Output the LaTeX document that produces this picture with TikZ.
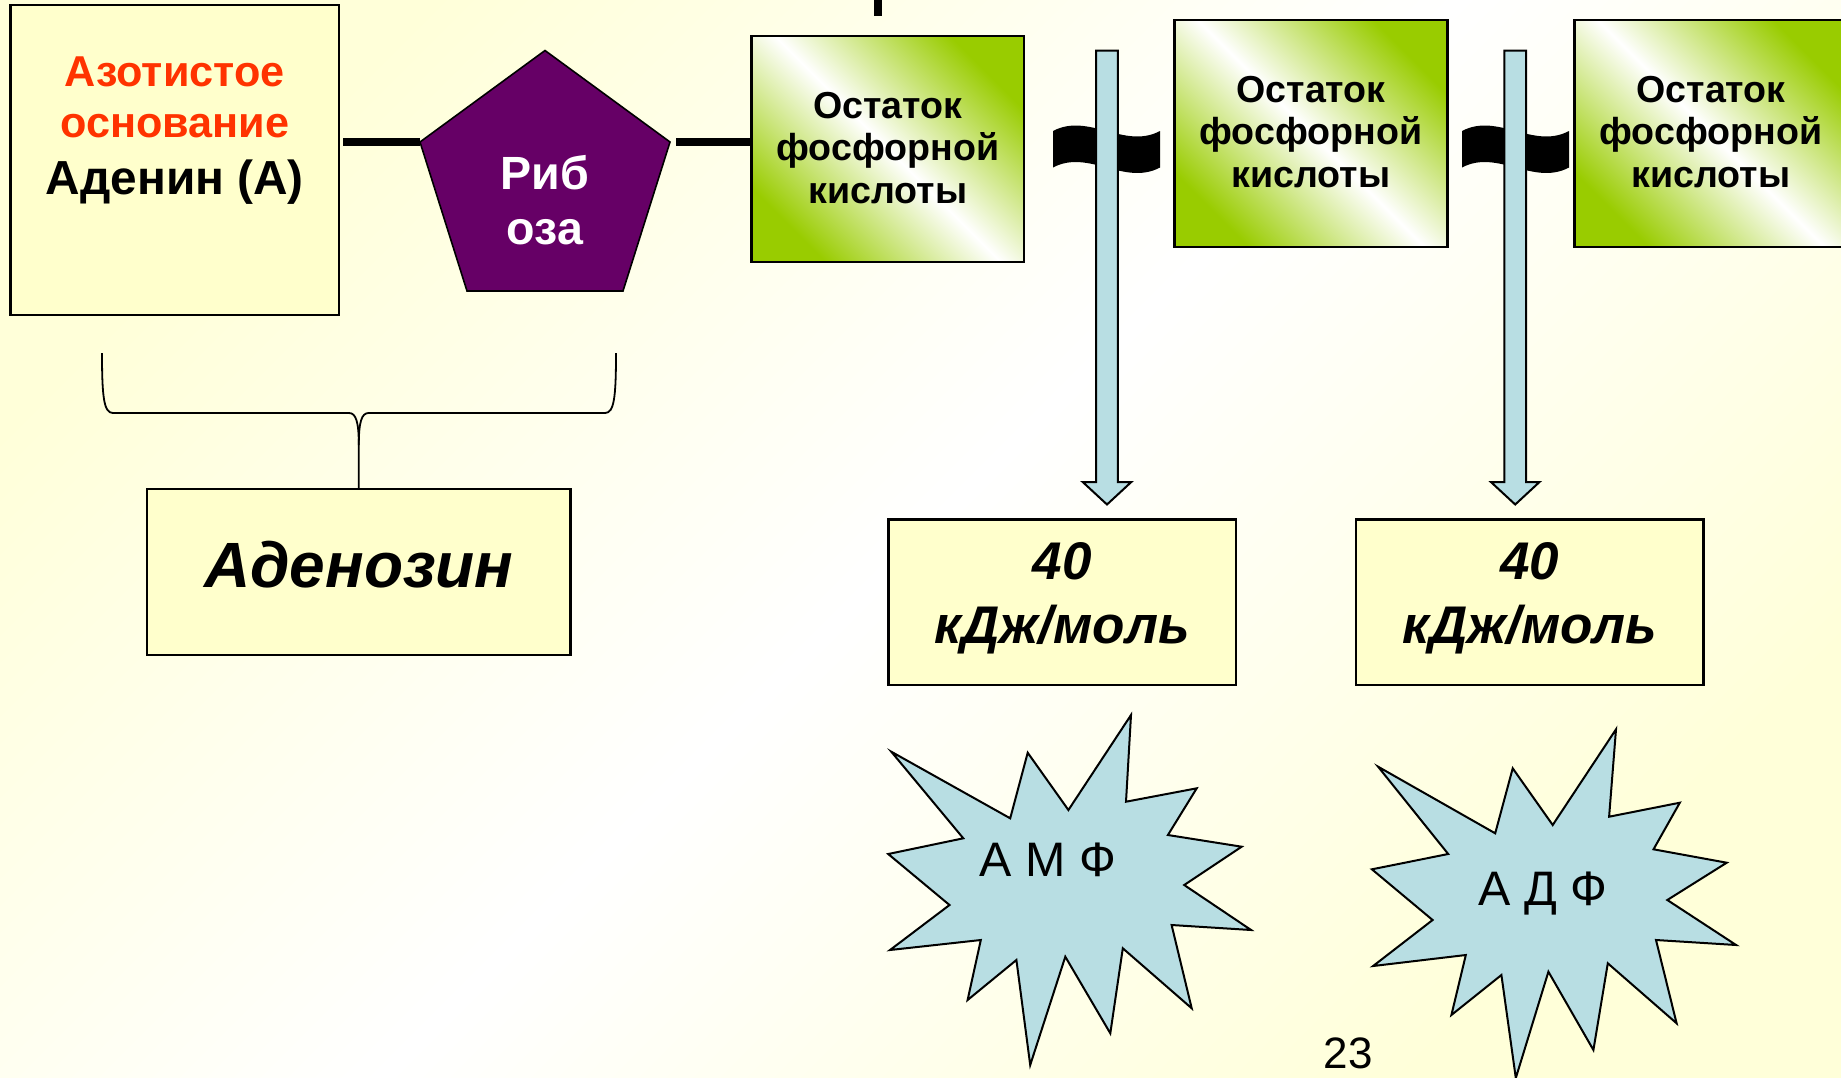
\documentclass[tikz,border=0pt]{standalone}
\usepackage{fontspec}
\setmainfont{Liberation Sans}
\usetikzlibrary{calc}
\definecolor{boxyel}{HTML}{FFFFCC}
\definecolor{bgyel}{HTML}{FFFFD9}
\definecolor{ribpurple}{HTML}{660066}
\definecolor{phgreen}{HTML}{99CC00}
\definecolor{lightblue}{HTML}{B8DEE3}
\definecolor{azred}{HTML}{FF3300}
\tikzset{
  yelbox/.style={draw=black, line width=1.2pt, fill=boxyel, inner sep=0pt},
  phbox/.style={draw=black, line width=1.2pt, top color=phgreen, bottom color=phgreen, middle color=white, shading angle=-45, inner sep=0pt, minimum width=136.5pt, minimum height=113.5pt},
  enbox/.style={yelbox, minimum width=173.85pt, minimum height=82.85pt},
  bond/.style={line width=3.6pt},
  brace/.style={line width=0.9pt},
  ribose/.style={fill=ribpurple, draw=black, line width=0.8pt},
  hewave/.style={fill=black},
  blockarrow/.style={fill=lightblue, draw=black, line width=1pt, line join=miter},
  burst/.style={fill=lightblue, draw=black, line width=1pt, line join=miter},
  txt/.style={anchor=base, inner sep=0pt, outer sep=0pt},
  phfont/.style={font=\fontsize{18.8pt}{21pt}\selectfont\bfseries},
  enfont/.style={font=\fontsize{26.5pt}{30pt}\selectfont\bfseries\itshape},
  burstfont/.style={font=\fontsize{24.2pt}{28pt}\selectfont},
}
\newcommand\phostext[3]{% x, first baseline, name
  \node[txt, phfont] (#3a) at (#1,#2) {Остаток};
  \node[txt, phfont] (#3b) at (#1,{#2+42.5}) {фосфорной};
  \node[txt, phfont] (#3c) at (#1,{#2+85}) {кислоты};
}
\newcommand\hewavebond[1]{%
  \fill[hewave] ({#1-53.5},131) .. controls ({#1-17.8},112) and ({#1+17.8},150) .. ({#1+53.5},131)
    -- ({#1+53.5},167.5) .. controls ({#1+17.8},186.5) and ({#1-17.8},148.5) .. ({#1-53.5},167.5) -- cycle;
}
\newcommand\downblockarrow[1]{%
  \filldraw[blockarrow] ({#1-10.8},50.5) -- ({#1+10.8},50.5) -- ({#1+10.8},482) -- ({#1+24.3},482)
    -- (#1,504.5) -- ({#1-24.3},482) -- ({#1-10.8},482) -- cycle;
}
\begin{document}
\begin{tikzpicture}[x=0.5pt, y=-0.5pt]
\useasboundingbox (0,0) rectangle (1841,1077);
\clip (0,0) rectangle (1841,1077);
% background
\shade[top color=bgyel, bottom color=bgyel, middle color=white, shading angle=45] (0,0) rectangle (1841,1077);

% top cut-off line
\coordinate (topA) at (878,-4);
\coordinate (topB) at (878,16);
\draw[bond] (topA) -- (topB);

% adenine box
\node[yelbox, minimum width=164.2pt, minimum height=155pt] (ade) at (174.8,160) {};
\node[txt, font=\fontsize{21.6pt}{25pt}\selectfont\bfseries, text=azred] (ade1) at (174.8,86) {Азотистое};
\node[txt, font=\fontsize{21.6pt}{25pt}\selectfont\bfseries, text=azred] (ade2) at (174.8,137) {основание};
\node[txt, font=\fontsize{23.9pt}{27pt}\selectfont\bfseries] (ade3) at (174.8,194) {Аденин (А)};

% ribose pentagon
\coordinate (ribT) at (545,50.5);
\coordinate (ribR) at (670,142);
\coordinate (ribBR) at (623,291);
\coordinate (ribBL) at (467,291);
\coordinate (ribL) at (420,142);
\filldraw[ribose] (ribT) -- (ribR) -- (ribBR) -- (ribBL) -- (ribL) -- cycle;
\node[txt, font=\fontsize{23.3pt}{27pt}\selectfont\bfseries, text=white] (rib1) at (545,189) {Риб};
\node[txt, font=\fontsize{23.3pt}{27pt}\selectfont\bfseries, text=white] (rib2) at (545,244) {оза};

% phosphate boxes
\node[phbox, minimum width=136.25pt, minimum height=113pt] (p1) at (887.8,149) {};
\node[phbox] (p2) at (1311,133.5) {};
\node[phbox] (p3) at (1711,133.5) {};
\phostext{887.8}{118}{p1t}
\phostext{1311}{102}{p2t}
\phostext{1711}{102}{p3t}

% bonds
\draw[bond, shorten <=1.4pt] (ade.east |- ribL) -- (ribL);
\draw[bond, shorten <=3.2pt, shorten >=-1.5pt] (ribR) -- (p1.west |- ribR);

% high-energy bonds and arrows
\hewavebond{1106.5}
\hewavebond{1515.5}
\downblockarrow{1107}
\downblockarrow{1515.2}

% brace and adenosine
\node[yelbox, minimum width=211.8pt, minimum height=83pt] (ados) at (358.8,572) {};
\node[txt, font=\fontsize{32pt}{38pt}\selectfont\bfseries\itshape] (adost) at (358.8,587) {Аденозин};
\draw[brace] (102,353) .. controls (102,398) and (104,413) .. (113,413) -- (349,413)
  .. controls (356,413) and (358.8,422) .. (358.8,445) -- (ados.north);
\draw[brace] (616,353) .. controls (616,398) and (614,413) .. (605,413) -- (368.6,413)
  .. controls (361.6,413) and (358.8,422) .. (358.8,445);

% energy boxes
\node[enbox] (e1) at (1062.2,602.2) {};
\node[enbox] (e2) at (1529.8,602.2) {};
\node[txt, enfont] (e1a) at (1062.2,579) {40};
\node[txt, enfont] (e1b) at (1062.2,643) {кДж/моль};
\node[txt, enfont] (e2a) at (1529.8,579) {40};
\node[txt, enfont] (e2b) at (1529.8,643) {кДж/моль};

% bursts
\filldraw[burst] (891.3,751.7) -- (1010.2,818.3) -- (1027.7,752.7) -- (1068.4,810) -- (1131,715)
  -- (1126,801.7) -- (1196.7,788.3) -- (1167.9,835) -- (1241.7,846.7) -- (1184.2,885)
  -- (1251.1,930) -- (1171.6,925) -- (1191.7,1008.3) -- (1122.8,948.3) -- (1110.3,1033.3)
  -- (1065.3,956.7) -- (1030.2,1065) -- (1016.4,960) -- (967.6,1000) -- (980.8,940)
  -- (890,950) -- (949.5,905) -- (888.2,854) -- (963.3,838.3) -- cycle;
\filldraw[burst] (1378.1,766.7) -- (1495.2,833.3) -- (1512.7,768.3) -- (1552.7,825) -- (1616,729.3)
  -- (1609.1,816.7) -- (1679.8,802.7) -- (1653.5,849.3) -- (1726.7,862.7) -- (1667.3,900)
  -- (1736.1,945) -- (1656,940) -- (1676.6,1023.3) -- (1607.8,963.3) -- (1593.4,1050)
  -- (1548.4,971.7) -- (1515.8,1078) -- (1501.4,975) -- (1451.4,1015) -- (1465.8,955)
  -- (1373.1,966) -- (1432.6,920) -- (1371.9,869.3) -- (1448.2,854) -- cycle;
\node[txt, burstfont] (amf) at (1048,876) {А М Ф};
\node[txt, burstfont] (adf) at (1543,905) {А Д Ф};

% page number
\node[txt, font=\fontsize{22pt}{25pt}\selectfont] (pg) at (1348,1068) {23};
\end{tikzpicture}
\end{document}
